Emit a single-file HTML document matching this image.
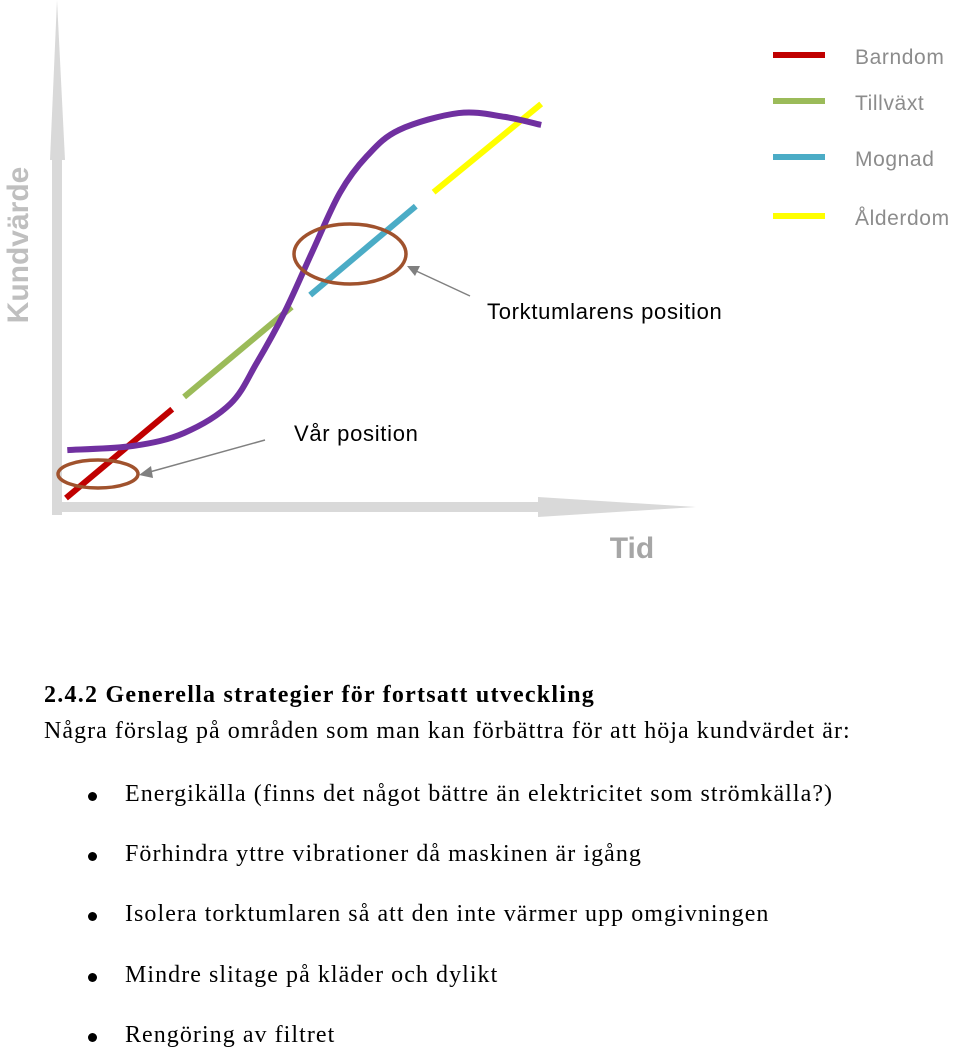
<!DOCTYPE html>
<html><head><meta charset="utf-8">
<style>
body{margin:0;background:#fff;width:960px;height:1056px;overflow:hidden;position:relative;font-family:"Liberation Serif",serif;}
#chart{position:absolute;left:0;top:0;}
.txt{position:absolute;font-size:24px;letter-spacing:1.05px;color:#000;white-space:nowrap;}
.bul{position:absolute;left:88px;width:9px;height:9px;border-radius:50%;background:#000;}
</style></head><body>
<svg id="chart" width="960" height="640" viewBox="0 0 960 640">
  <g id="axes">
    <rect x="52" y="150" width="10" height="365" fill="#d9d9d9"/>
    <polygon points="57,0 50,160 65,160" fill="#d9d9d9"/>
    <rect x="62" y="502" width="480" height="10" fill="#d9d9d9"/>
    <polygon points="538,497 538,517 696,507" fill="#d9d9d9"/>
    <text transform="translate(28,245) rotate(-90)" text-anchor="middle" font-family="Liberation Sans, sans-serif" font-weight="bold" font-size="30" fill="#bfbfbf">Kundvärde</text>
    <text x="632" y="558" text-anchor="middle" font-family="Liberation Sans, sans-serif" font-weight="bold" font-size="30" fill="#a6a6a6">Tid</text>
  </g>
  <g id="marks"></g>
  <g id="legend"></g>
  <g id="annot" font-family="Liberation Sans, sans-serif" font-size="22" letter-spacing="0.7" fill="#000">
    <ellipse cx="98" cy="474" rx="40" ry="14" fill="none" stroke="#a0522d" stroke-width="3.5"/>
    <ellipse cx="350" cy="254" rx="56" ry="30" fill="none" stroke="#a0522d" stroke-width="3.5"/>
    <line x1="265" y1="440" x2="146" y2="473" stroke="#808080" stroke-width="1.5"/>
    <polygon points="139,475 151,466 153,478" fill="#808080"/>
    <line x1="470" y1="296" x2="414" y2="270" stroke="#808080" stroke-width="1.5"/>
    <polygon points="407,266 420,266 415,276" fill="#808080"/>
    <text x="294" y="441">Vår position</text>
    <text x="487" y="319">Torktumlarens position</text>
  </g>
</svg>

<div class="txt" style="left:44px;top:682px;font-weight:bold;letter-spacing:1.25px;">2.4.2 Generella strategier för fortsatt utveckling</div>
<div class="txt" style="left:44px;top:718px;">Några förslag på områden som man kan förbättra för att höja kundvärdet är:</div>
<div class="bul" style="top:792px"></div>
<div class="txt" style="left:125px;top:781px;">Energikälla (finns det något bättre än elektricitet som strömkälla?)</div>
<div class="bul" style="top:852px"></div>
<div class="txt" style="left:125px;top:841px;">Förhindra yttre vibrationer då maskinen är igång</div>
<div class="bul" style="top:912px"></div>
<div class="txt" style="left:125px;top:901px;">Isolera torktumlaren så att den inte värmer upp omgivningen</div>
<div class="bul" style="top:973px"></div>
<div class="txt" style="left:125px;top:962px;">Mindre slitage på kläder och dylikt</div>
<div class="bul" style="top:1033px"></div>
<div class="txt" style="left:125px;top:1022px;">Rengöring av filtret</div>

<script>
// Data in abstract units: time 0..~75, value 0..~112
const curveTime = [0.5, 10.5, 18.2, 25.2, 29.2, 33.5, 37.6, 41.8, 45.9, 50.8, 59.8, 66.8, 72.3];
const curveValue = [13.4, 14.6, 18.3, 26.6, 38.3, 53.1, 70, 86.9, 97.4, 104.9, 109.7, 108.6, 106.3];
const phaseNames = ["Barndom", "Tillväxt", "Mognad", "Ålderdom"];
const phaseStart = [0.3, 18.2, 37.3, 56];
const phaseEnd = [16.4, 34.5, 53.3, 72.3];
const phaseStartValue = [-0.3, 28.6, 57.7, 87.1];
const phaseEndValue = [25.1, 54.3, 83.1, 112.3];
const phaseColors = ["#c00000", "#9bbb59", "#4bacc6", "#ffff00"];

const x = t => 64 + t * 6.6;
const y = v => 497 - v * 3.5;
const NS = "http://www.w3.org/2000/svg";
const marks = document.getElementById("marks");
const legend = document.getElementById("legend");

for (let i = 0; i < phaseNames.length; i++) {
  const l = document.createElementNS(NS, "line");
  l.setAttribute("x1", x(phaseStart[i])); l.setAttribute("y1", y(phaseStartValue[i]));
  l.setAttribute("x2", x(phaseEnd[i])); l.setAttribute("y2", y(phaseEndValue[i]));
  l.setAttribute("stroke", phaseColors[i]); l.setAttribute("stroke-width", "6");
  
  
  marks.appendChild(l);

  const ly = [55, 101, 157, 216][i];
  const ll = document.createElementNS(NS, "rect");
  ll.setAttribute("x", 773); ll.setAttribute("y", ly - 3); ll.setAttribute("width", 52); ll.setAttribute("height", 6);
  ll.setAttribute("fill", phaseColors[i]);
  
  
  legend.appendChild(ll);
  const lt = document.createElementNS(NS, "text");
  lt.setAttribute("x", 855); lt.setAttribute("y", ly + 9);
  lt.setAttribute("font-family", "Liberation Sans, sans-serif");
  lt.setAttribute("font-size", "21"); lt.setAttribute("fill", "#8c8c8c");
  lt.setAttribute("letter-spacing", "0.6");
  lt.textContent = phaseNames[i];
  
  
  legend.appendChild(lt);
}

const pts = curveTime.map((t, i) => [x(t), y(curveValue[i])]);
let d = "M" + pts[0][0] + "," + pts[0][1];
for (let i = 0; i < pts.length - 1; i++) {
  const p0 = pts[i - 1] || pts[i], p1 = pts[i], p2 = pts[i + 1], p3 = pts[i + 2] || p2;
  const c1 = [p1[0] + (p2[0] - p0[0]) / 6, p1[1] + (p2[1] - p0[1]) / 6];
  const c2 = [p2[0] - (p3[0] - p1[0]) / 6, p2[1] - (p3[1] - p1[1]) / 6];
  d += " C" + c1 + " " + c2 + " " + p2;
}
const path = document.createElementNS(NS, "path");
path.setAttribute("d", d);
path.setAttribute("fill", "none"); path.setAttribute("stroke", "#7030a0"); path.setAttribute("stroke-width", "6");


marks.appendChild(path);
</script>
</body></html>
